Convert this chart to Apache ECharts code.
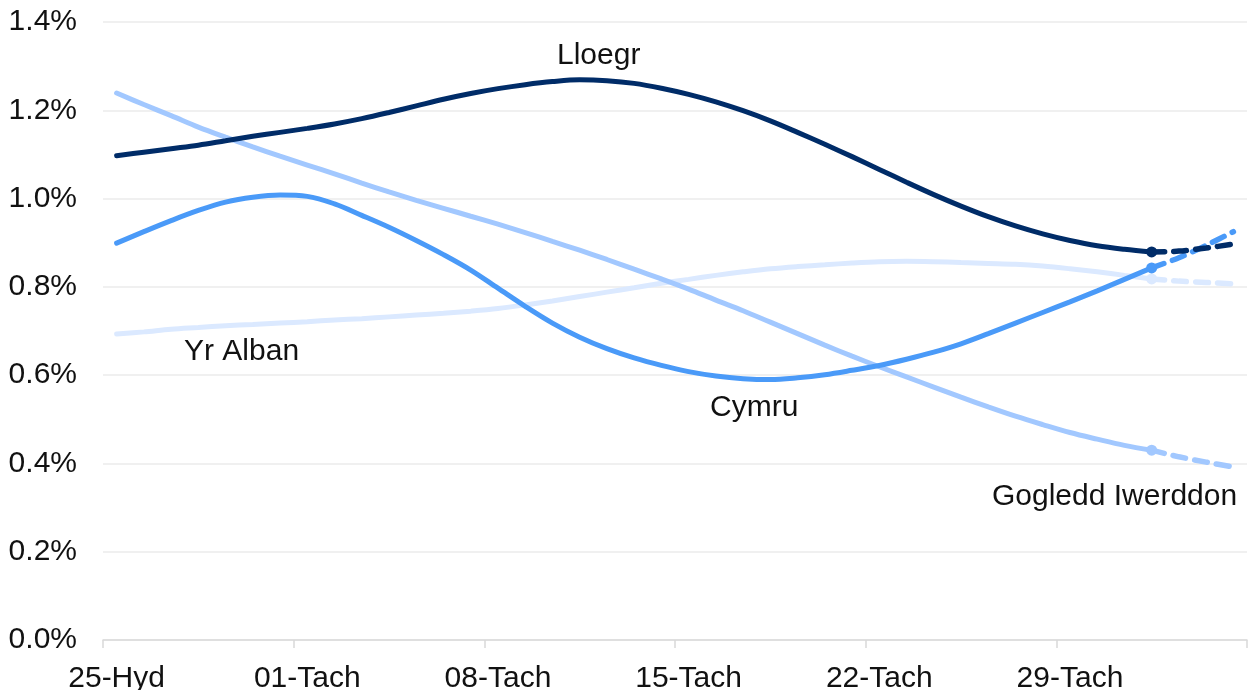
<!DOCTYPE html>
<html>
<head>
<meta charset="utf-8">
<script src="https://cdn.jsdelivr.net/npm/echarts@6/dist/echarts.min.js"></script>
<style>
html,body{margin:0;padding:0;background:#fff;}
#chart{width:1252px;height:690px;}
</style>
</head>
<body>
<div id="chart"></div>
<script>
// Categories: daily dates 25-Hyd .. 05-Rhag
const months = [['Hyd', 25, 31], ['Tach', 1, 30], ['Rhag', 1, 5]];
const categories = [];
months.forEach(function (m) {
  for (let d = m[1]; d <= m[2]; d++) {
    categories.push((d < 10 ? '0' + d : '' + d) + '-' + m[0]);
  }
});

const yTicks = [0, 0.2, 0.4, 0.6, 0.8, 1.0, 1.2, 1.4];

// Solid (observed) values, % — index 0..38
const lloegr = [1.097,1.105,1.113,1.121,1.131,1.141,1.150,1.159,1.169,1.181,1.195,1.210,1.225,1.238,1.249,1.258,1.265,1.269,1.267,1.261,1.250,1.236,1.219,1.199,1.176,1.150,1.123,1.095,1.066,1.037,1.009,0.983,0.959,0.938,0.920,0.905,0.893,0.885,0.879];
const cymru = [0.899,0.925,0.950,0.973,0.992,1.003,1.008,1.005,0.988,0.962,0.935,0.905,0.873,0.838,0.797,0.756,0.718,0.686,0.660,0.639,0.622,0.608,0.598,0.592,0.590,0.594,0.601,0.611,0.622,0.636,0.652,0.671,0.694,0.718,0.742,0.766,0.791,0.817,0.843];
const gogledd = [1.239,1.213,1.188,1.162,1.139,1.117,1.096,1.076,1.056,1.035,1.015,0.996,0.978,0.960,0.942,0.923,0.903,0.883,0.862,0.840,0.818,0.795,0.770,0.746,0.720,0.694,0.668,0.643,0.619,0.596,0.573,0.550,0.528,0.507,0.488,0.470,0.455,0.441,0.430];
const alban = [0.693,0.698,0.704,0.708,0.712,0.715,0.718,0.721,0.725,0.728,0.732,0.736,0.740,0.745,0.751,0.759,0.768,0.778,0.788,0.798,0.808,0.817,0.826,0.834,0.841,0.846,0.850,0.854,0.857,0.858,0.857,0.855,0.853,0.851,0.847,0.841,0.834,0.826,0.818];

// Projected (dashed) values, index 38..41
const lloegrProj = [0.879,0.881,0.888,0.897];
const cymruProj = [0.843,0.866,0.894,0.925];
const gogleddProj = [0.430,0.415,0.403,0.392];
const albanProj = [0.818,0.813,0.810,0.807];

const projStart = 38;

const FONT = 'Liberation Sans, Arial, sans-serif';
const LFS = 30;

function padProj(arr) {
  const out = [];
  for (let i = 0; i < projStart; i++) out.push(null);
  return out.concat(arr);
}

function solid(name, data, color, z) {
  return {
    name: name, type: 'line', data: data, smooth: 0.35, z: z,
    showSymbol: true, showAllSymbol: true, symbol: 'circle',
    symbolSize: function (v, p) { return p.dataIndex === projStart ? 11 : 0; },
    itemStyle: { color: color },
    lineStyle: { color: color, width: 5, cap: 'round' },
    emphasis: { disabled: true }, silent: true
  };
}
function dashed(name, data, color, z) {
  return {
    name: name + ' proj', type: 'line', data: padProj(data), smooth: 0.3, z: z,
    showSymbol: false, connectNulls: false,
    lineStyle: { color: color, width: 5.5, type: [13, 9], cap: 'round' },
    emphasis: { disabled: true }, silent: true
  };
}

const cAlban = '#dbe9ff', cGI = '#a2c8ff', cCym = '#4a9af8', cLl = '#002c68';

const chart = echarts.init(document.getElementById('chart'));
chart.setOption({
  animation: false,
  backgroundColor: '#fff',
  grid: { left: 103, right: 5, top: 22, bottom: 50, containLabel: false, outerBoundsMode: 'none' },
  xAxis: {
    type: 'category', data: categories, boundaryGap: true,
    axisLine: { lineStyle: { color: '#d9d9d9', width: 1.5 } },
    axisTick: { show: true, interval: 6, length: 8, lineStyle: { color: '#d9d9d9', width: 1.5 } },
    axisLabel: { interval: 6, color: '#111', fontSize: LFS, fontFamily: FONT, margin: 24 }
  },
  yAxis: {
    type: 'value', min: 0, max: 1.4, interval: 0.2,
    axisLine: { show: false }, axisTick: { show: false },
    axisLabel: {
      color: '#111', fontSize: LFS, fontFamily: FONT, margin: 26,
      formatter: function (v) { return v.toFixed(1) + '%'; }
    },
    splitLine: { lineStyle: { color: '#ebebeb', width: 1.5 } }
  },
  series: [
    solid('Yr Alban', alban, cAlban, 2), dashed('Yr Alban', albanProj, cAlban, 2),
    solid('Gogledd Iwerddon', gogledd, cGI, 3), dashed('Gogledd Iwerddon', gogleddProj, cGI, 3),
    solid('Cymru', cymru, cCym, 4), dashed('Cymru', cymruProj, cCym, 4),
    solid('Lloegr', lloegr, cLl, 5), dashed('Lloegr', lloegrProj, cLl, 5)
  ],
  graphic: [
    { type: 'text', left: 557, top: 41, style: { text: 'Lloegr', font: LFS + 'px ' + FONT, fill: '#111' } },
    { type: 'text', left: 184, top: 337, style: { text: 'Yr Alban', font: LFS + 'px ' + FONT, fill: '#111' } },
    { type: 'text', left: 710, top: 393, style: { text: 'Cymru', font: LFS + 'px ' + FONT, fill: '#111' } },
    { type: 'text', left: 992, top: 482, style: { text: 'Gogledd Iwerddon', font: LFS + 'px ' + FONT, fill: '#111' } }
  ]
});
</script>
</body>
</html>
